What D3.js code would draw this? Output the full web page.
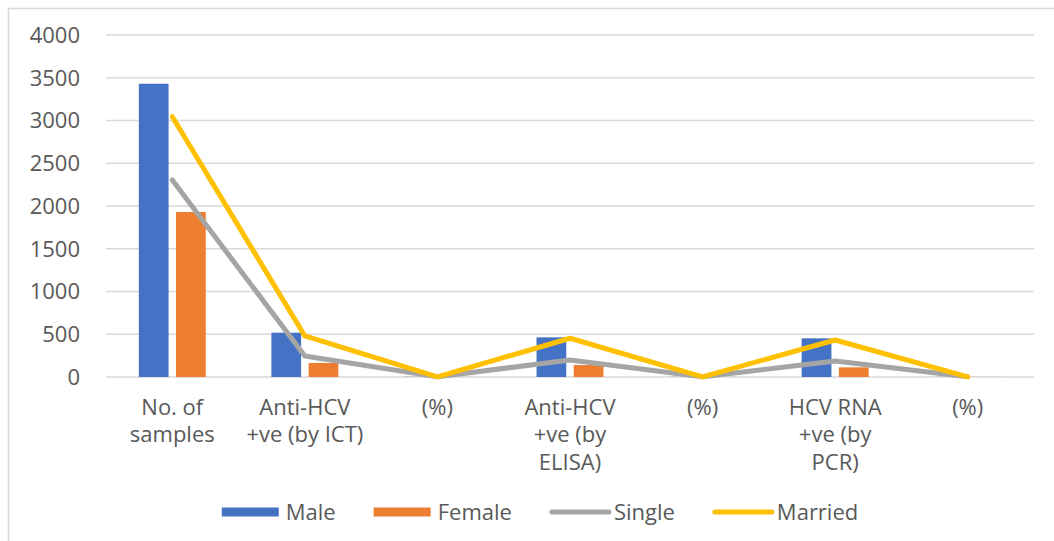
<!DOCTYPE html>
<html lang="en">
<head>
    <meta charset="UTF-8">
    <script src="https://d3js.org/d3.v7.min.js"></script>
    <title>HCV results by gender and marital status</title>
    <style>
        body { margin: 0; background: #fff; }
        text { font-family: "Open Sans", sans-serif; fill: #595959; }
    </style>
</head>
<body>
    <div id="chart"></div>
    <script>
        // data
        const categories = ["No. of samples", "Anti-HCV +ve (by ICT)", "(%) ICT", "Anti-HCV +ve (by ELISA)", "(%) ELISA", "HCV RNA +ve (by PCR)", "(%) PCR"];
        const categoryLines = [
            ["No. of", "samples"],
            ["Anti-HCV", "+ve (by ICT)"],
            ["(%)"],
            ["Anti-HCV", "+ve (by", "ELISA)"],
            ["(%)"],
            ["HCV RNA", "+ve (by", "PCR)"],
            ["(%)"]
        ];
        const male = [3430, 518, 2, 464, 1.5, 452, 1.5];
        const female = [1930, 164, 1, 140, 1, 113, 1];
        const single = [2304, 245, 2, 199, 2, 187, 2];
        const married = [3044, 480, 2, 453, 2, 433, 2];
        const yTicks = [0, 500, 1000, 1500, 2000, 2500, 3000, 3500, 4000];

        const barSeries = [
            { name: "Male", values: male, color: "#4472C4" },
            { name: "Female", values: female, color: "#ED7D31" }
        ];
        const lineSeries = [
            { name: "Single", values: single, color: "#A5A5A5" },
            { name: "Married", values: married, color: "#FFC000" }
        ];

        const width = 1054, height = 541;
        const plot = { left: 106, right: 1034, top: 35, bottom: 377 };
        const fontSize = "22px";

        const svg = d3.select("#chart").append("svg")
            .attr("width", width)
            .attr("height", height);

        // chart frame (only top and left edges show in the crop)
        svg.append("path")
            .attr("d", `M8.5,${height} V8.5 H${width}`)
            .attr("fill", "none")
            .attr("stroke", "#d9d9d9")
            .attr("stroke-width", 1.5);

        const y = d3.scaleLinear().domain([0, 4000]).range([plot.bottom, plot.top]);

        const x0 = d3.scaleBand()
            .domain(categories)
            .range([plot.left, plot.right])
            .paddingInner(0.495)
            .paddingOuter(0.2475);

        const x1 = d3.scaleBand()
            .domain(barSeries.map(s => s.name))
            .range([0, x0.bandwidth()])
            .paddingInner(0.2);

        const cx = c => x0(c) + x0.bandwidth() / 2;

        // gridlines
        svg.append("g")
            .selectAll("line")
            .data(yTicks)
            .enter()
            .append("line")
            .attr("x1", plot.left)
            .attr("x2", plot.right)
            .attr("y1", d => y(d))
            .attr("y2", d => y(d))
            .attr("stroke", "#d9d9d9")
            .attr("stroke-width", 1.5);

        // y tick labels
        svg.append("g")
            .selectAll("text")
            .data(yTicks)
            .enter()
            .append("text")
            .attr("x", 80)
            .attr("y", d => y(d))
            .attr("dy", "0.36em")
            .attr("text-anchor", "end")
            .style("font-size", fontSize)
            .text(d => d);

        // bars
        barSeries.forEach(s => {
            svg.append("g")
                .selectAll("rect")
                .data(categories)
                .enter()
                .append("rect")
                .attr("x", c => x0(c) + x1(s.name))
                .attr("width", x1.bandwidth())
                .attr("y", (c, i) => y(s.values[i]))
                .attr("height", (c, i) => y(0) - y(s.values[i]))
                .attr("fill", s.color);
        });

        // lines
        lineSeries.forEach(s => {
            const line = d3.line()
                .x((d, i) => cx(categories[i]))
                .y(d => y(d));
            svg.append("path")
                .datum(s.values)
                .attr("d", line)
                .attr("fill", "none")
                .attr("stroke", s.color)
                .attr("stroke-width", 5)
                .attr("stroke-linejoin", "round")
                .attr("stroke-linecap", "round");
        });

        // category labels
        const xLabels = svg.append("g")
            .selectAll("text")
            .data(categories)
            .enter()
            .append("text")
            .attr("text-anchor", "middle")
            .style("font-size", fontSize);
        xLabels.each(function (c, i) {
            d3.select(this).selectAll("tspan")
                .data(categoryLines[i])
                .enter()
                .append("tspan")
                .attr("x", cx(c))
                .attr("y", (d, j) => 407 + j * 27.5)
                .attr("dy", "0.36em")
                .text(d => d);
        });

        // legend
        const legendItems = barSeries.map(s => ({ name: s.name, color: s.color, type: "bar" }))
            .concat(lineSeries.map(s => ({ name: s.name, color: s.color, type: "line" })));
        const legend = svg.append("g");
        const legendY = 512;
        let lx = 0;
        legendItems.forEach(item => {
            const g = legend.append("g").attr("transform", `translate(${lx},0)`);
            if (item.type === "bar") {
                g.append("rect")
                    .attr("x", 0).attr("y", legendY - 4.5)
                    .attr("width", 57).attr("height", 9)
                    .attr("fill", item.color);
            } else {
                g.append("line")
                    .attr("x1", 2).attr("x2", 59)
                    .attr("y1", legendY).attr("y2", legendY)
                    .attr("stroke", item.color)
                    .attr("stroke-width", 5)
                    .attr("stroke-linecap", "round");
            }
            const t = g.append("text")
                .attr("x", 64)
                .attr("y", legendY)
                .attr("dy", "0.36em")
                .style("font-size", fontSize)
                .text(item.name);
            lx += 64 + t.node().getComputedTextLength() + 38;
        });
        const legendWidth = lx - 38;
        legend.attr("transform", `translate(${540 - legendWidth / 2},0)`);
    </script>
</body>
</html>
